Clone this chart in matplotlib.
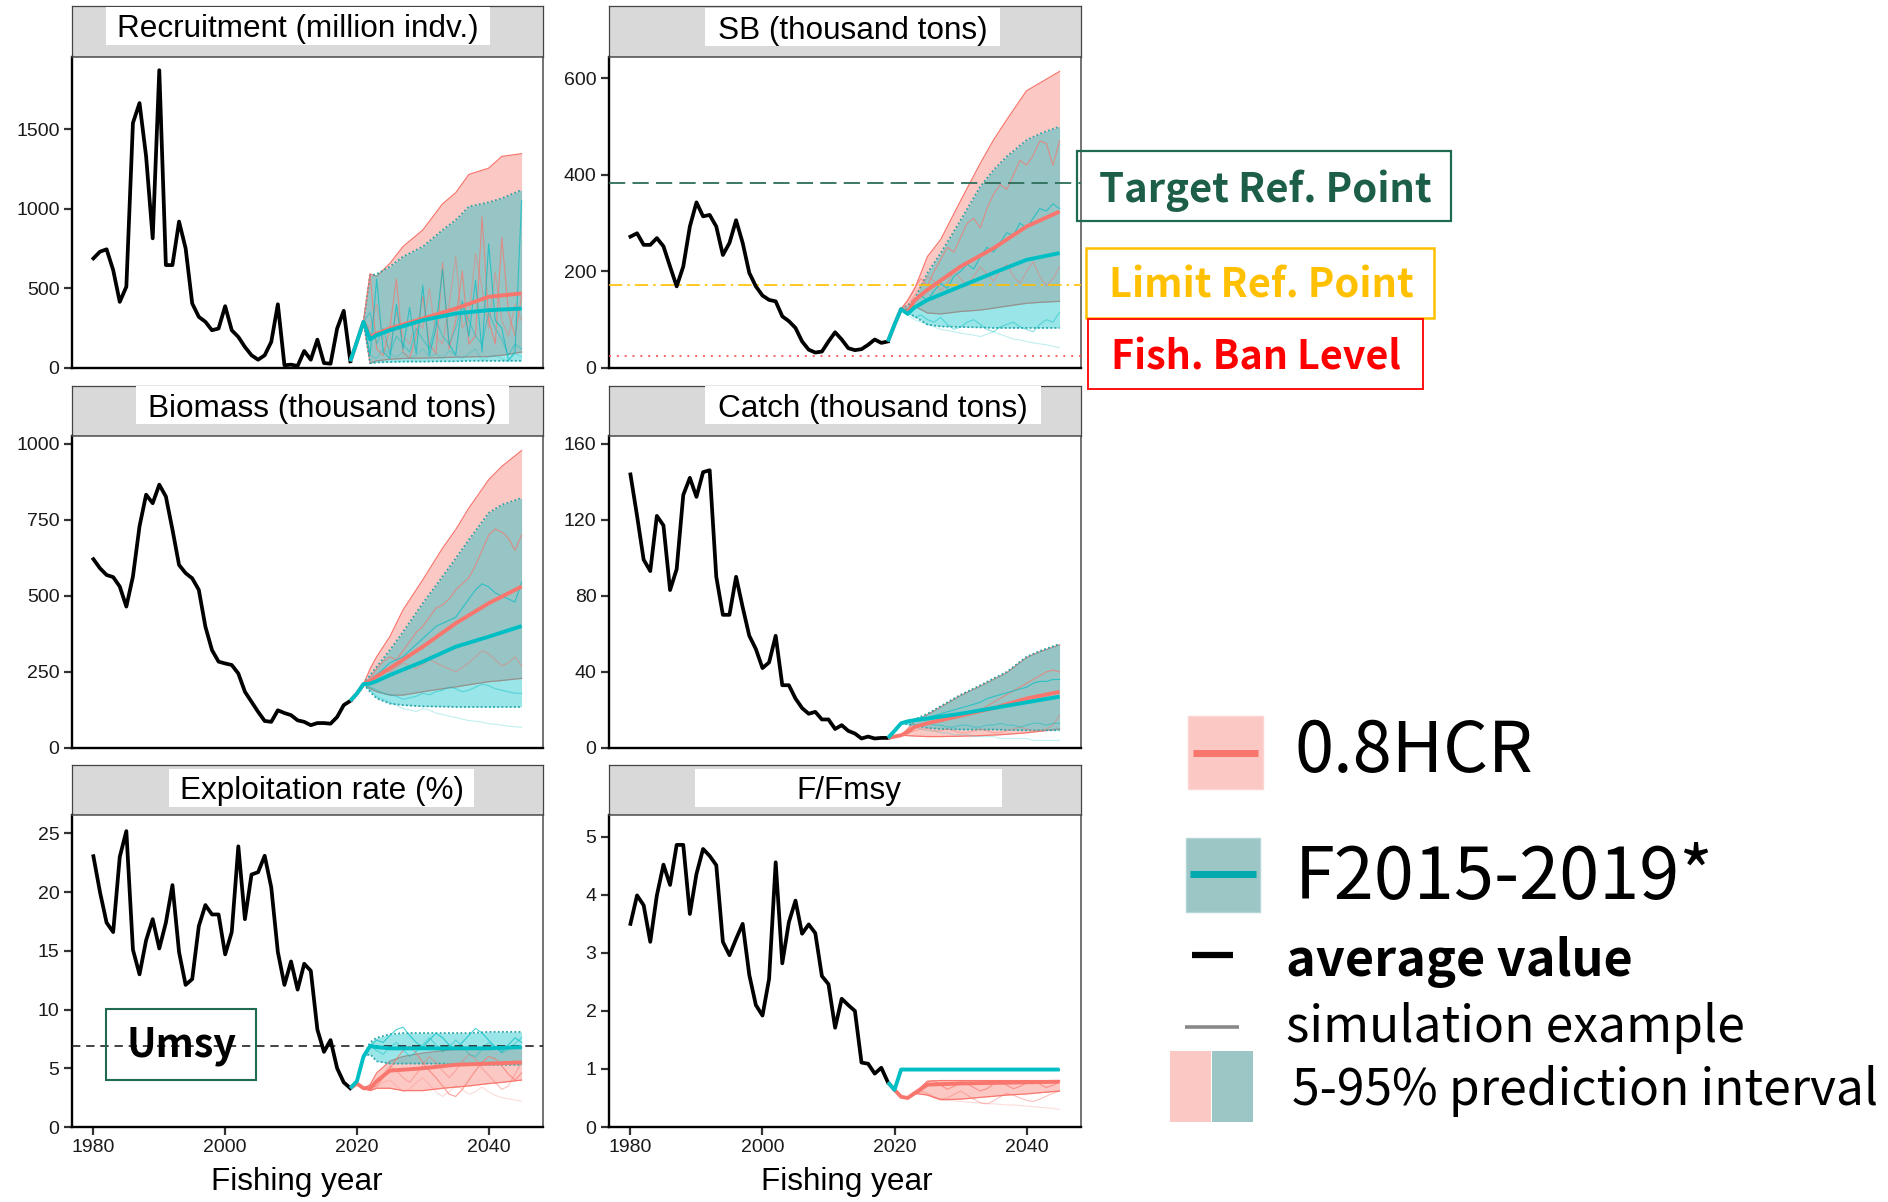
import matplotlib
matplotlib.use("Agg")
import matplotlib.pyplot as plt
from matplotlib.patches import Rectangle

# ------------------------------------------------------------------ data
HIST_YEARS = list(range(1980, 2020))
MEAN_YEARS = [2019, 2020, 2021, 2022, 2023, 2025, 2030, 2035, 2040, 2045]
BAND_YEARS = [2021, 2022, 2023, 2025, 2027, 2030, 2033, 2035, 2037, 2040, 2042, 2045]
SIM_YEARS = list(range(2021, 2046))
X_TICKS = [1980, 2000, 2020, 2040]

TITLES = ["Recruitment (million indv.)", "SB (thousand tons)", "Biomass (thousand tons)",
          "Catch (thousand tons)", "Exploitation rate (%)", "F/Fmsy"]

# Recruitment
REC_HIST = [688, 730, 745, 615, 415, 510, 1538, 1663, 1328, 814, 1869, 646, 646, 919, 751, 405, 321, 290,
            237, 248, 388, 237, 195, 132, 80, 52, 80, 164, 400, 17, 21, 13, 107, 52, 178, 31, 27, 248, 359, 42]
REC_RED_MEAN = [42, 165, 290, 195, 215, 248, 310, 373, 447, 468]
REC_TEAL_MEAN = [42, 165, 290, 180, 206, 237, 300, 342, 363, 373]
REC_RED_LO = [290, 30, 45, 55, 60, 62, 65, 68, 70, 72, 80, 100]
REC_RED_HI = [290, 590, 575, 656, 762, 866, 1030, 1100, 1215, 1254, 1328, 1345]
REC_TEAL_LO = [290, 30, 35, 38, 40, 40, 42, 42, 45, 45, 45, 45]
REC_TEAL_HI = [290, 580, 590, 636, 699, 762, 866, 929, 1013, 1040, 1065, 1118]
REC_SIM_RED = [
    [290, 590, 120, 80, 250, 560, 100, 60, 200, 450, 150, 90, 660, 120, 300, 610, 150, 200, 950, 300, 150, 820, 350, 200, 450],
    [290, 250, 400, 180, 120, 350, 200, 150, 300, 250, 500, 200, 150, 400, 700, 250, 320, 720, 500, 250, 600, 300, 200, 400, 300],
]
REC_SIM_TEAL = [
    [290, 80, 560, 100, 60, 400, 120, 380, 90, 520, 80, 250, 620, 150, 80, 420, 200, 550, 100, 780, 300, 250, 50, 100, 1050],
    [290, 350, 150, 250, 90, 200, 150, 100, 250, 180, 120, 300, 200, 150, 250, 400, 300, 200, 150, 350, 250, 180, 80, 150, 120],
    [290, 80, 60, 120, 90, 70, 100, 60, 80, 120, 70, 90, 60, 110, 80, 60, 90, 120, 50, 70, 80, 60, 40, 90, 70],
]

# Spawning biomass
SB_HIST = [272, 279, 255, 255, 269, 252, 210, 169, 210, 293, 343, 314, 317, 293, 234, 259, 306, 259, 197, 169,
           150, 141, 138, 107, 97, 83, 55, 38, 32, 34, 55, 74, 59, 41, 37, 39, 48, 59, 52, 55]
SB_RED_MEAN = [55, 90, 122, 115, 140, 162, 210, 248, 293, 324]
SB_TEAL_MEAN = [55, 90, 122, 112, 125, 141, 169, 197, 224, 238]
SB_RED_LO = [122, 122, 128, 114, 112, 117, 120, 124, 128, 134, 136, 138]
SB_RED_HI = [122, 140, 162, 231, 266, 346, 424, 472, 514, 574, 590, 614]
SB_TEAL_LO = [122, 115, 107, 90, 86, 85, 84, 83, 83, 83, 83, 83]
SB_TEAL_HI = [122, 130, 141, 197, 238, 306, 376, 410, 438, 472, 485, 500]
SB_SIM_RED = [
    [122, 140, 165, 185, 170, 200, 225, 250, 240, 270, 300, 310, 290, 330, 360, 380, 370, 400, 430, 420, 440, 470, 465, 420, 470],
    [122, 130, 150, 170, 190, 180, 160, 175, 200, 185, 170, 190, 210, 195, 180, 200, 215, 190, 175, 200, 220, 190, 170, 185, 210],
]
SB_SIM_TEAL = [
    [122, 120, 135, 150, 140, 160, 175, 165, 190, 200, 215, 205, 230, 250, 240, 260, 280, 275, 300, 290, 310, 330, 325, 340, 330],
    [122, 115, 105, 110, 100, 95, 105, 90, 80, 85, 95, 100, 90, 80, 75, 85, 90, 95, 85, 80, 75, 90, 100, 95, 115],
    [122, 110, 100, 95, 90, 85, 80, 78, 75, 72, 70, 68, 65, 70, 75, 70, 65, 60, 58, 55, 52, 50, 48, 45, 42],
]
SB_TARGET = 383
SB_LIMIT = 171
SB_BAN = 24

# Biomass
BIO_HIST = [621, 591, 569, 562, 531, 465, 564, 729, 833, 805, 866, 827, 718, 602, 575, 558, 520, 399, 322, 284,
            278, 273, 245, 185, 152, 119, 89, 86, 124, 115, 108, 91, 86, 75, 82, 82, 80, 102, 141, 155]
BIO_RED_MEAN = [155, 179, 210, 220, 235, 262, 333, 410, 476, 531]
BIO_TEAL_MEAN = [155, 179, 210, 212, 220, 240, 284, 333, 366, 401]
BIO_RED_LO = [210, 195, 185, 174, 174, 185, 195, 201, 208, 218, 222, 229]
BIO_RED_HI = [210, 260, 300, 366, 454, 553, 657, 718, 789, 882, 926, 978]
BIO_TEAL_LO = [210, 185, 163, 146, 141, 137, 136, 135, 135, 135, 135, 135]
BIO_TEAL_HI = [210, 240, 267, 322, 382, 476, 564, 624, 685, 773, 800, 822]
BIO_SIM_RED = [
    [210, 230, 260, 285, 300, 290, 320, 350, 380, 400, 430, 460, 470, 490, 520, 540, 560, 600, 650, 700, 720, 710, 690, 650, 700],
    [210, 220, 240, 255, 250, 265, 280, 270, 260, 275, 290, 280, 270, 260, 250, 265, 280, 300, 320, 310, 290, 270, 280, 300, 270],
]
BIO_SIM_TEAL = [
    [210, 225, 240, 260, 280, 290, 300, 320, 340, 360, 380, 400, 410, 420, 430, 460, 490, 520, 540, 530, 510, 500, 490, 480, 545],
    [210, 200, 190, 180, 175, 170, 160, 165, 170, 180, 175, 185, 190, 200, 195, 185, 190, 200, 210, 205, 195, 190, 185, 180, 180],
    [210, 190, 170, 160, 150, 140, 130, 125, 120, 130, 125, 115, 110, 105, 100, 95, 90, 88, 85, 80, 78, 75, 72, 70, 68],
]

# Catch
CATCH_HIST = [143.8, 122, 99, 93, 122, 117, 83, 94, 133, 142, 132, 145, 146, 90, 70, 70, 90, 74, 59, 52,
              42, 45, 59, 33, 33, 26, 21, 18, 19, 15, 15, 10, 12, 9, 7.6, 5, 6, 5, 5.3, 5.3]
CATCH_RED_MEAN = [5.3, 6, 6.7, 8.4, 11, 13, 17, 21, 26, 29.5]
CATCH_TEAL_MEAN = [5.3, 9, 13, 14, 14.6, 15.5, 18, 21, 24, 27]
CATCH_RED_LO = [6.7, 6.5, 6.3, 6.0, 6.0, 6.2, 6.5, 6.8, 7.2, 8.0, 8.8, 10]
CATCH_RED_HI = [6.7, 10, 14, 17.5, 21.5, 27.5, 32.5, 36, 39.5, 47.5, 50.5, 54.2]
CATCH_TEAL_LO = [13, 12.5, 12, 10.5, 10, 9.7, 9.7, 9.7, 9.5, 9.3, 9.3, 9.3]
CATCH_TEAL_HI = [13, 14.5, 15, 18, 22, 28, 33, 36.6, 40, 48, 51, 54.7]
CATCH_SIM_RED = [
    [6.7, 9, 11, 12, 13, 14, 14, 15, 16, 17, 18, 19, 20, 22, 24, 26, 28, 30, 32, 34, 36, 38, 40, 41, 40],
    [6.7, 8, 9, 10, 10, 9, 9, 10, 9, 8, 8, 9, 10, 9, 8, 8, 9, 10, 11, 10, 9, 9, 10, 12, 17],
]
CATCH_SIM_TEAL = [
    [13, 14, 15, 16, 16, 17, 18, 19, 20, 21, 22, 23, 24, 26, 27, 28, 29, 30, 31, 32, 34, 35, 35, 36, 36],
    [13, 13, 12, 12, 13, 12, 12, 11, 11, 12, 12, 11, 11, 12, 12, 13, 12, 12, 11, 12, 13, 13, 12, 13, 13],
    [13, 12, 11, 10, 9, 9, 8, 8, 7, 7, 7, 6, 6, 6, 6, 5, 5, 5, 5, 5, 4, 4, 4, 4, 4],
]

# Exploitation rate
EXP_HIST = [23.06, 20.0, 17.4, 16.6, 23.0, 25.2, 15.1, 13.0, 15.9, 17.7, 15.2, 17.4, 20.6, 14.9, 12.1, 12.6,
            17.1, 18.9, 18.1, 18.1, 14.7, 16.6, 23.9, 17.7, 21.5, 21.7, 23.1, 20.4, 14.9, 12.1, 14.1, 11.7,
            13.9, 13.3, 8.3, 6.4, 7.4, 5.0, 3.8, 3.3]
EXP_RED_MEAN = [3.3, 3.7, 3.3, 3.3, 3.9, 4.8, 5.0, 5.3, 5.4, 5.5]
EXP_TEAL_MEAN = [3.3, 3.9, 6.0, 6.9, 6.8, 6.7, 6.7, 6.7, 6.7, 6.8]
EXP_RED_LO = [3.3, 3.1, 3.3, 3.3, 3.1, 3.1, 3.3, 3.4, 3.5, 3.7, 3.8, 4.0]
EXP_RED_HI = [3.3, 3.6, 4.6, 5.6, 6.0, 6.3, 6.5, 6.6, 6.7, 6.7, 6.8, 6.8]
EXP_TEAL_LO = [6.0, 6.2, 5.6, 5.4, 5.4, 5.4, 5.4, 5.3, 5.3, 5.3, 5.3, 5.3]
EXP_TEAL_HI = [6.0, 7.2, 7.6, 7.9, 8.0, 8.0, 8.0, 8.0, 8.0, 8.1, 8.1, 8.1]
EXP_SIM_RED = [
    [3.3, 3.3, 3.5, 4.2, 5.0, 5.8, 6.5, 6.9, 6.3, 5.5, 4.8, 4.2, 3.5, 2.8, 2.6, 3.2, 4.0, 4.8, 5.5, 6.0, 5.8, 5.2, 4.5, 4.0, 4.6],
    [3.3, 3.3, 3.8, 4.5, 5.2, 4.8, 4.2, 3.8, 4.5, 5.3, 6.0, 5.5, 4.8, 4.2, 4.8, 5.6, 6.2, 5.8, 5.0, 4.4, 3.8, 3.2, 3.5, 4.5, 5.5],
    [3.3, 3.3, 3.4, 3.8, 4.0, 3.5, 3.0, 3.2, 3.8, 4.2, 3.6, 3.0, 2.6, 3.0, 3.5, 3.2, 2.8, 3.0, 3.4, 3.0, 2.7, 2.5, 2.4, 2.3, 2.2],
]
EXP_SIM_TEAL = [
    [6.0, 6.9, 7.4, 7.2, 7.8, 8.3, 8.5, 7.8, 7.2, 6.8, 7.4, 8.0, 7.6, 7.0, 6.6, 7.2, 7.8, 8.4, 8.0, 7.4, 6.8, 6.4, 7.0, 7.6, 7.2],
    [6.0, 6.9, 6.5, 6.2, 6.8, 7.2, 6.6, 6.0, 6.4, 7.0, 7.6, 7.0, 6.4, 6.8, 7.4, 6.9, 6.2, 6.0, 6.6, 7.2, 6.8, 6.3, 6.6, 7.1, 7.6],
]
UMSY = 6.9

# F / Fmsy
F_HIST = [3.50, 3.99, 3.82, 3.19, 3.99, 4.52, 4.17, 4.86, 4.86, 3.67, 4.36, 4.79, 4.67, 4.51, 3.19, 2.96,
          3.24, 3.50, 2.62, 2.10, 1.92, 2.55, 4.56, 2.82, 3.53, 3.90, 3.33, 3.49, 3.34, 2.60, 2.46, 1.71,
          2.21, 2.10, 2.00, 1.11, 1.09, 0.92, 1.02, 0.77]
F_RED_MEAN = [0.77, 0.64, 0.52, 0.50, 0.58, 0.73, 0.75, 0.76, 0.77, 0.78]
F_TEAL_MEAN = [0.77, 0.64, 0.99, 0.99, 0.99, 0.99, 0.99, 0.99, 0.99, 0.99]
F_RED_LO = [0.52, 0.50, 0.58, 0.55, 0.47, 0.48, 0.51, 0.53, 0.55, 0.57, 0.59, 0.62]
F_RED_HI = [0.52, 0.50, 0.58, 0.79, 0.80, 0.80, 0.80, 0.80, 0.80, 0.80, 0.80, 0.80]
F_TEAL_LO = [0.99, 0.99, 0.99, 0.99, 0.99, 0.99, 0.99, 0.99, 0.99, 0.99, 0.99, 0.99]
F_TEAL_HI = [0.99, 0.99, 0.99, 0.99, 0.99, 0.99, 0.99, 0.99, 0.99, 0.99, 0.99, 0.99]
F_SIM_RED = [
    [0.52, 0.50, 0.58, 0.67, 0.78, 0.80, 0.72, 0.65, 0.70, 0.78, 0.75, 0.68, 0.62, 0.66, 0.74, 0.79, 0.72, 0.66, 0.70, 0.76, 0.80, 0.74, 0.68, 0.72, 0.78],
    [0.52, 0.50, 0.55, 0.62, 0.58, 0.52, 0.48, 0.50, 0.56, 0.62, 0.55, 0.48, 0.42, 0.40, 0.45, 0.52, 0.58, 0.55, 0.50, 0.46, 0.44, 0.48, 0.53, 0.58, 0.62],
    [0.52, 0.50, 0.55, 0.60, 0.55, 0.50, 0.48, 0.46, 0.45, 0.44, 0.43, 0.42, 0.41, 0.40, 0.40, 0.39, 0.38, 0.38, 0.37, 0.36, 0.35, 0.34, 0.33, 0.32, 0.30],
]
F_SIM_TEAL = []

Y_TICKS = [[0, 500, 1000, 1500], [0, 200, 400, 600], [0, 250, 500, 750, 1000],
           [0, 40, 80, 120, 160], [0, 5, 10, 15, 20, 25], [0, 1, 2, 3, 4, 5]]
Y_TOPS = [1952, 644, 1026, 164, 26.57, 5.375]

LEGEND_LABELS = ["0.8HCR", "F2015-2019*", "average value", "simulation example", "5-95% prediction interval"]
REF_LABELS = ["Target Ref. Point", "Limit Ref. Point", "Fish. Ban Level"]

PANELS = [
    dict(hist=REC_HIST, rm=REC_RED_MEAN, tm=REC_TEAL_MEAN, rlo=REC_RED_LO, rhi=REC_RED_HI,
         tlo=REC_TEAL_LO, thi=REC_TEAL_HI, sr=REC_SIM_RED, st=REC_SIM_TEAL),
    dict(hist=SB_HIST, rm=SB_RED_MEAN, tm=SB_TEAL_MEAN, rlo=SB_RED_LO, rhi=SB_RED_HI,
         tlo=SB_TEAL_LO, thi=SB_TEAL_HI, sr=SB_SIM_RED, st=SB_SIM_TEAL),
    dict(hist=BIO_HIST, rm=BIO_RED_MEAN, tm=BIO_TEAL_MEAN, rlo=BIO_RED_LO, rhi=BIO_RED_HI,
         tlo=BIO_TEAL_LO, thi=BIO_TEAL_HI, sr=BIO_SIM_RED, st=BIO_SIM_TEAL),
    dict(hist=CATCH_HIST, rm=CATCH_RED_MEAN, tm=CATCH_TEAL_MEAN, rlo=CATCH_RED_LO, rhi=CATCH_RED_HI,
         tlo=CATCH_TEAL_LO, thi=CATCH_TEAL_HI, sr=CATCH_SIM_RED, st=CATCH_SIM_TEAL),
    dict(hist=EXP_HIST, rm=EXP_RED_MEAN, tm=EXP_TEAL_MEAN, rlo=EXP_RED_LO, rhi=EXP_RED_HI,
         tlo=EXP_TEAL_LO, thi=EXP_TEAL_HI, sr=EXP_SIM_RED, st=EXP_SIM_TEAL),
    dict(hist=F_HIST, rm=F_RED_MEAN, tm=F_TEAL_MEAN, rlo=F_RED_LO, rhi=F_RED_HI,
         tlo=F_TEAL_LO, thi=F_TEAL_HI, sr=F_SIM_RED, st=F_SIM_TEAL),
]

# ------------------------------------------------------------------ style / layout
W, H, DPI = 1888, 1202, 100
RED = "#F8766D"
TEAL = "#00BFC4"
TEAL_EDGE = "#2AA6AA"
SIM_ALPHA = [0.7, 0.45, 0.25]
GREEN = "#1C5E48"
GOLD = "#FFC000"
UI_FONT = ["Noto Sans CJK SC", "DejaVu Sans"]

plt.rcParams["font.family"] = ["Liberation Sans", "DejaVu Sans"]
fig = plt.figure(figsize=(W / DPI, H / DPI), dpi=DPI)
fig.patch.set_facecolor("white")


def px_rect(x0, y0, x1, y1):
    return [x0 / W, 1 - y1 / H, (x1 - x0) / W, (y1 - y0) / H]


COLS = [(72, 543), (609, 1081)]
ROWS = [(6, 57, 368), (386, 436, 748), (765, 815, 1127)]
STRIP_BOXES = [(106, 7, 490, 45), (705, 8, 1000, 46), (136, 386, 509, 424),
               (705, 386, 1041, 424), (169, 769, 474, 807), (695, 769, 1002, 807)]

axes = []
for i, p in enumerate(PANELS):
    r, c = divmod(i, 2)
    x0, x1 = COLS[c]
    st, pt, pb = ROWS[r]
    sax = fig.add_axes(px_rect(x0, st, x1, pt))
    sax.set_facecolor("#D9D9D9")
    sax.set_xticks([])
    sax.set_yticks([])
    for s in sax.spines.values():
        s.set_color("#444444")
        s.set_linewidth(0.9)

    ax = fig.add_axes(px_rect(x0, pt, x1, pb))
    axes.append(ax)
    ax.fill_between(BAND_YEARS, p["rlo"], p["rhi"], color=RED, alpha=0.4, lw=0, zorder=1)
    ax.plot(BAND_YEARS, p["rhi"], color=RED, lw=0.9, zorder=1.2)
    ax.plot(BAND_YEARS, p["rlo"], color=RED, lw=0.9, zorder=1.2)
    ax.fill_between(BAND_YEARS, p["tlo"], p["thi"], color=TEAL, alpha=0.4, lw=0, zorder=2)
    ax.plot(BAND_YEARS, p["thi"], color=TEAL_EDGE, lw=1.3, ls=(0, (1, 1.3)), zorder=2.2)
    ax.plot(BAND_YEARS, p["tlo"], color=TEAL_EDGE, lw=1.3, ls=(0, (1, 1.3)), zorder=2.2)
    for k, s in enumerate(p["sr"]):
        ax.plot(SIM_YEARS, s, color=RED, lw=0.8, alpha=SIM_ALPHA[k], zorder=3)
    for k, s in enumerate(p["st"]):
        ax.plot(SIM_YEARS, s, color=TEAL, lw=0.8, alpha=SIM_ALPHA[k], zorder=3)
    ax.plot(HIST_YEARS, p["hist"], color="black", lw=2.7, zorder=5, solid_joinstyle="round")
    ax.plot(MEAN_YEARS, p["rm"], color=RED, lw=2.8, zorder=5.5, solid_capstyle="butt")
    ax.plot(MEAN_YEARS, p["tm"], color=TEAL, lw=2.8, zorder=6, solid_capstyle="butt")

    ax.set_xlim(1976.75, 2048.25)
    ax.set_ylim(0, Y_TOPS[i])
    ax.set_yticks(Y_TICKS[i])
    ax.set_xticks(X_TICKS)
    ax.tick_params(direction="out", length=6, width=1.6, color="#333333",
                   labelsize=14, labelcolor="#1a1a1a", pad=3)
    if r < 2:
        ax.tick_params(axis="x", length=0, labelbottom=False)
    for side in ("left", "bottom"):
        ax.spines[side].set_color("black")
        ax.spines[side].set_linewidth(1.7)
    for side in ("top", "right"):
        ax.spines[side].set_color("#4d4d4d")
        ax.spines[side].set_linewidth(1.1)

# reference lines
axes[1].axhline(SB_TARGET, color="#2C6E58", lw=1.3, dashes=(9, 4), zorder=4)
axes[1].axhline(SB_LIMIT, color=GOLD, lw=1.2, dashes=(8, 3, 1.5, 3), zorder=4)
axes[1].axhline(SB_BAN, color="#F0504A", lw=1.2, dashes=(1.2, 3.5), zorder=4)
axes[4].axhline(UMSY, color="#222222", lw=1.2, dashes=(5, 3.5), zorder=4)

# ------------------------------------------------------------------ overlay (figure pixel coords)
ov = fig.add_axes([0, 0, 1, 1], zorder=20)
ov.set_xlim(0, W)
ov.set_ylim(H, 0)
ov.axis("off")
ov.patch.set_alpha(0)

to_fit = []
for (bx0, by0, bx1, by1), title in zip(STRIP_BOXES, TITLES):
    ov.add_patch(Rectangle((bx0, by0), bx1 - bx0, by1 - by0, facecolor="white", edgecolor="none"))
    ov.text((bx0 + bx1) / 2, by1 - 7.5, title, ha="center", va="baseline", fontsize=22.7, color="black")

for xc in (297, 847):
    ov.text(xc, 1190, "Fishing year", ha="center", va="baseline", fontsize=22.7, color="black")

# reference point labels
ov.add_patch(Rectangle((1077, 151), 374, 70, facecolor="none", edgecolor="#1E6B52", lw=1.6))
ov.add_patch(Rectangle((1086, 248), 348, 70, facecolor="none", edgecolor=GOLD, lw=1.8))
ov.add_patch(Rectangle((1088, 319), 335, 70, facecolor="none", edgecolor="#FF1010", lw=1.4))
t = ov.text(1265, 202, REF_LABELS[0], ha="center", va="baseline", fontsize=30, fontweight="bold",
            color=GREEN, family=UI_FONT)
to_fit.append((t, 333))
t = ov.text(1261, 297, REF_LABELS[1], ha="center", va="baseline", fontsize=30, fontweight="bold",
            color=GOLD, family=UI_FONT)
to_fit.append((t, 305))
t = ov.text(1256, 370, REF_LABELS[2], ha="center", va="baseline", fontsize=30, fontweight="bold",
            color="#FF0000", family=UI_FONT)
to_fit.append((t, 290))

# Umsy box
ov.add_patch(Rectangle((106, 1009), 150, 71, facecolor="none", edgecolor="#1E6B52", lw=1.5))
t = ov.text(182, 1057, "Umsy", ha="center", va="baseline", fontsize=28, fontweight="bold",
            color="black", family=UI_FONT)
to_fit.append((t, 110))

# legend
ov.add_patch(Rectangle((1188, 716), 75, 73, facecolor="#FBC8C4", edgecolor="#FCD6D2", lw=1))
ov.plot([1193, 1258], [753, 753], color=RED, lw=5, solid_capstyle="butt")
ov.add_patch(Rectangle((1186, 838), 74, 74, facecolor="#9CC5C5", edgecolor="#B5D6D6", lw=1))
ov.plot([1190, 1256], [874, 874], color="#00A9AE", lw=5, solid_capstyle="butt")
ov.plot([1192, 1233], [955, 955], color="black", lw=4.5, solid_capstyle="butt")
ov.plot([1185, 1239], [1027, 1027], color="#888888", lw=2.6, solid_capstyle="butt")
ov.add_patch(Rectangle((1170, 1051), 41, 71, facecolor="#FBC8C4", edgecolor="none"))
ov.add_patch(Rectangle((1212, 1051), 41, 71, facecolor="#9CC5C5", edgecolor="none"))

legend_specs = [(LEGEND_LABELS[0], 1294, 772, 239, "normal"),
                (LEGEND_LABELS[1], 1295, 899, 419, "normal"),
                (LEGEND_LABELS[2], 1286, 976, 347, "bold"),
                (LEGEND_LABELS[3], 1286, 1042, 459, "normal"),
                (LEGEND_LABELS[4], 1292, 1105, 586, "normal")]
for txt, lx, ly, lw_, wt in legend_specs:
    t = ov.text(lx, ly, txt, ha="left", va="baseline", fontsize=40, fontweight=wt,
                color="black", family=UI_FONT)
    to_fit.append((t, lw_))

fig.canvas.draw()
renderer = fig.canvas.get_renderer()
for t, target in to_fit:
    w = t.get_window_extent(renderer=renderer).width
    if w > 0:
        t.set_fontsize(t.get_fontsize() * target / w)

fig.savefig("out.png", dpi=DPI, facecolor="white")
